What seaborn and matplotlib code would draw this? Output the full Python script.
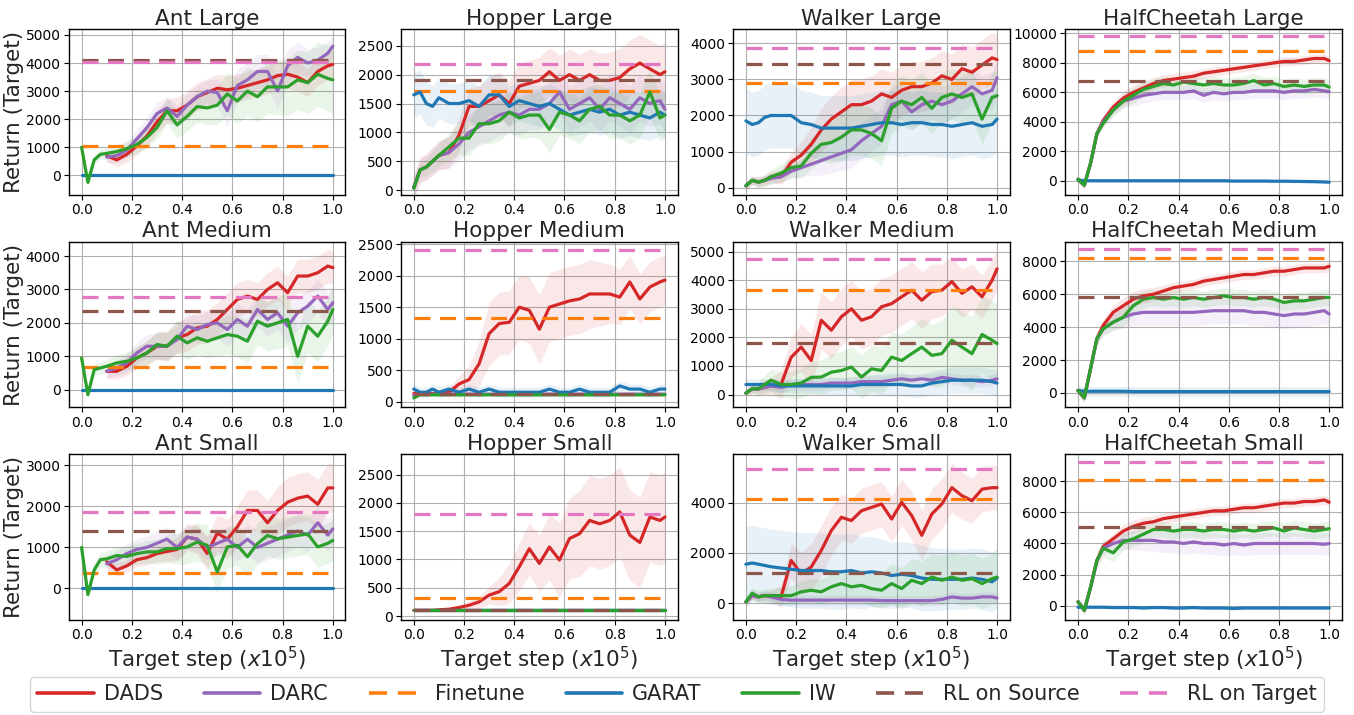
import numpy as np
import pandas as pd
import matplotlib
matplotlib.use("Agg")
import matplotlib.pyplot as plt
import seaborn as sns
from matplotlib.lines import Line2D

N = float("nan")

# ---------------- data ----------------
X = [0, 0.025, 0.05, 0.075, 0.1, 0.14, 0.18, 0.22, 0.26, 0.3, 0.34, 0.38, 0.42, 0.46,
     0.5, 0.54, 0.58, 0.62, 0.66, 0.7, 0.74, 0.78, 0.82, 0.86, 0.9, 0.94, 0.98, 1.0]
XB = [0, 0.1, 0.2, 0.3, 0.4, 0.5, 0.6, 0.7, 0.8, 0.9, 1.0]  # band sample points

TITLES = ["Ant Large", "Hopper Large", "Walker Large", "HalfCheetah Large",
          "Ant Medium", "Hopper Medium", "Walker Medium", "HalfCheetah Medium",
          "Ant Small", "Hopper Small", "Walker Small", "HalfCheetah Small"]
METHODS = ["DADS", "DARC", "GARAT", "IW"]
BASELINES = ["Finetune", "RL on Source", "RL on Target"]

# Ant Large
AL_DADS = [N, N, N, N, 700, 550, 750, 1050, 1400, 1900, 2300, 2300, 2500, 2800, 2950, 3100, 3050, 3100, 3200, 3300, 3400, 3550, 3600, 3500, 3300, 3700, 3900, 3950]
AL_DARC = [N, N, N, N, 650, 700, 900, 1300, 1700, 2200, 2400, 2100, 2500, 2800, 3000, 2950, 2300, 3200, 3400, 3700, 3700, 3000, 3900, 4200, 4000, 4100, 4350, 4600]
AL_GARAT = [0, 0, 0, 0, 0, 0, 0, 0, 0, 0, 0, 0, 0, 0, 0, 0, 0, 0, 0, 0, 0, 0, 0, 0, 0, 0, 0, 0]
AL_IW = [1000, -250, 550, 750, 780, 850, 950, 1100, 1350, 1700, 2300, 1800, 2100, 2450, 2400, 2500, 2900, 2650, 3000, 2800, 3150, 3150, 3150, 3400, 3300, 3600, 3450, 3400]
# Hopper Large
HL_DADS = [50, 350, 400, 500, 600, 650, 950, 1450, 1450, 1550, 1650, 1500, 1800, 1850, 1900, 2050, 1900, 2000, 1900, 2000, 1900, 1900, 1950, 2100, 2200, 2100, 2000, 2050]
HL_DARC = [50, 350, 400, 500, 600, 650, 800, 1000, 1100, 1200, 1300, 1350, 1300, 1400, 1400, 1500, 1700, 1400, 1500, 1600, 1400, 1600, 1500, 1400, 1600, 1500, 1550, 1400]
HL_GARAT = [1650, 1700, 1500, 1450, 1600, 1500, 1500, 1550, 1450, 1650, 1650, 1450, 1550, 1500, 1450, 1500, 1400, 1300, 1350, 1400, 1350, 1400, 1300, 1350, 1300, 1250, 1350, 1300]
HL_IW = [30, 350, 400, 500, 600, 750, 900, 900, 1150, 1150, 1200, 1350, 1250, 1300, 1300, 1050, 1350, 1300, 1200, 1400, 1450, 1300, 1300, 1200, 1300, 1700, 1250, 1300]
# Walker Large
WL_DADS = [50, 200, 150, 200, 300, 300, 700, 900, 1200, 1600, 1900, 2100, 2300, 2300, 2400, 2600, 2500, 2700, 2800, 2800, 2900, 3100, 3000, 3300, 3200, 3400, 3600, 3550]
WL_DARC = [50, 200, 150, 200, 250, 300, 450, 550, 650, 750, 850, 950, 1050, 1300, 1500, 1700, 2300, 2400, 2100, 2300, 2400, 2300, 2400, 2600, 2800, 2600, 2700, 3050]
WL_GARAT = [1850, 1750, 1800, 1950, 2000, 2000, 2000, 1800, 1750, 1650, 1650, 1650, 1650, 1700, 1750, 1800, 1800, 1750, 1800, 1800, 1750, 1750, 1700, 1750, 1800, 1700, 1750, 1900]
WL_IW = [50, 200, 150, 200, 300, 400, 550, 600, 950, 1200, 1250, 1400, 1600, 1600, 1500, 1300, 2200, 2400, 2300, 2500, 2200, 2500, 2600, 2500, 2600, 1900, 2500, 2550]
# HalfCheetah Large
CL_DADS = [100, -300, 1200, 3200, 4100, 5000, 5600, 6000, 6300, 6600, 6800, 6900, 7000, 7100, 7300, 7400, 7500, 7600, 7700, 7800, 7900, 8000, 8100, 8100, 8200, 8300, 8300, 8150]
CL_DARC = [100, -300, 1200, 3200, 4000, 4800, 5400, 5600, 5800, 5900, 6000, 6000, 6000, 6100, 5800, 6000, 5900, 6000, 6000, 6100, 6100, 6100, 6000, 6100, 6100, 6200, 6100, 6050]
CL_GARAT = [50, 0, 0, 0, 0, 0, 0, 0, 0, 0, 0, 0, 0, 0, 0, 0, 0, -20, -20, -20, -20, -30, -30, -40, -50, -60, -80, -100]
CL_IW = [100, -300, 1200, 3200, 3900, 4800, 5400, 5800, 6200, 6400, 6600, 6500, 6700, 6600, 6500, 6600, 6500, 6500, 6600, 6800, 6500, 6600, 6400, 6500, 6400, 6500, 6500, 6350]
# Ant Medium
AM_DADS = [N, N, N, N, 550, 550, 700, 950, 1100, 1300, 1300, 1550, 1650, 1850, 1900, 2100, 2400, 2700, 2800, 2700, 3000, 3200, 2900, 3400, 3400, 3500, 3700, 3650]
AM_DARC = [N, N, N, N, 550, 650, 800, 1100, 1300, 1300, 1300, 1500, 1900, 1800, 1950, 2000, 1800, 2100, 1900, 2400, 2100, 2300, 1900, 2300, 2500, 2800, 2400, 2600]
AM_GARAT = [0, 0, 0, 0, 0, 0, 0, 0, 0, 0, 0, 0, 0, 0, 0, 0, 0, 0, 0, 0, 0, 0, 0, 0, 0, 0, 0, 0]
AM_IW = [950, -150, 600, 650, 700, 800, 850, 950, 1100, 1350, 1300, 1600, 1400, 1550, 1450, 1550, 1650, 1600, 1450, 2050, 1900, 2000, 2100, 1000, 1900, 1600, 2050, 2400]
# Hopper Medium
HM_DADS = [130, 130, 130, 130, 130, 150, 280, 350, 600, 1080, 1240, 1260, 1500, 1450, 1150, 1500, 1550, 1600, 1630, 1710, 1710, 1710, 1660, 1900, 1630, 1820, 1900, 1930]
HM_DARC = [100, 120, 120, 120, 120, 120, 120, 120, 120, 120, 120, 120, 120, 120, 120, 120, 120, 120, 120, 120, 120, 120, 120, 120, 120, 120, 120, 120]
HM_GARAT = [200, 150, 150, 200, 150, 200, 150, 200, 150, 200, 150, 150, 150, 150, 150, 200, 150, 150, 200, 150, 150, 150, 250, 200, 200, 150, 200, 200]
HM_IW = [60, 110, 110, 110, 110, 110, 110, 110, 110, 110, 110, 110, 110, 110, 110, 110, 110, 110, 110, 110, 110, 110, 110, 110, 110, 110, 110, 110]
# Walker Medium
WM_DADS = [50, 200, 200, 250, 300, 350, 1300, 1660, 1190, 2600, 2250, 2720, 3000, 2600, 2720, 3070, 3180, 3420, 3650, 3300, 3600, 3650, 3950, 3540, 3770, 3420, 4000, 4400]
WM_DARC = [50, 200, 200, 250, 300, 250, 350, 350, 350, 350, 400, 400, 400, 450, 450, 450, 500, 550, 500, 550, 500, 600, 550, 500, 500, 450, 500, 550]
WM_GARAT = [350, 350, 350, 350, 350, 300, 300, 300, 300, 300, 300, 300, 300, 350, 350, 350, 350, 350, 300, 300, 400, 450, 500, 500, 500, 500, 450, 400]
WM_IW = [50, 200, 200, 350, 500, 350, 350, 400, 600, 610, 780, 840, 960, 610, 900, 840, 1310, 1190, 1430, 1660, 1370, 1430, 1900, 1660, 1430, 2100, 1900, 1780]
# HalfCheetah Medium
CM_DADS = [150, -300, 1500, 3300, 4100, 4900, 5300, 5700, 5900, 6000, 6200, 6400, 6500, 6600, 6800, 6900, 7000, 7100, 7200, 7200, 7300, 7400, 7400, 7500, 7600, 7600, 7600, 7700]
CM_DARC = [150, -300, 1500, 3300, 3900, 4300, 4600, 4800, 4900, 4900, 4900, 4900, 4900, 4900, 4950, 5000, 5000, 5000, 5000, 4900, 4900, 4800, 4700, 4800, 4800, 4900, 5000, 4800]
CM_GARAT = [150, 100, 100, 100, 100, 100, 100, 80, 80, 80, 80, 80, 80, 80, 80, 80, 80, 80, 80, 80, 80, 80, 80, 80, 80, 80, 80, 80]
CM_IW = [150, -300, 1500, 3300, 3900, 4300, 4600, 5300, 5700, 5800, 5700, 5800, 5700, 5800, 5700, 5800, 5900, 5800, 5800, 5700, 5800, 5700, 5500, 5600, 5600, 5700, 5800, 5800]
# Ant Small
AS_DADS = [N, N, N, N, 650, 450, 550, 700, 750, 850, 900, 950, 1250, 1200, 850, 1350, 1200, 1500, 1900, 1900, 1600, 1900, 2100, 2200, 2250, 2050, 2450, 2450]
AS_DARC = [N, N, N, N, 600, 700, 850, 950, 1000, 1100, 1200, 1000, 1250, 1200, 1000, 1100, 1200, 1000, 1200, 1000, 1100, 1200, 1300, 1400, 1300, 1600, 1300, 1450]
AS_GARAT = [0, 0, 0, 0, 0, 0, 0, 0, 0, 0, 0, 0, 0, 0, 0, 0, 0, 0, 0, 0, 0, 0, 0, 0, 0, 0, 0, 0]
AS_IW = [1000, -150, 450, 700, 720, 800, 780, 850, 890, 890, 970, 970, 1010, 1130, 1050, 400, 1010, 1050, 770, 1090, 1290, 1210, 1250, 1290, 1330, 1010, 1100, 1170]
# Hopper Small
HS_DADS = [100, 100, 100, 100, 110, 120, 150, 190, 250, 370, 430, 575, 870, 1190, 930, 1220, 990, 1370, 1455, 1690, 1630, 1690, 1840, 1430, 1300, 1750, 1690, 1750]
HS_DARC = [100, 100, 100, 100, 100, 100, 100, 100, 100, 100, 100, 100, 100, 100, 100, 100, 100, 100, 100, 100, 100, 100, 100, 100, 100, 100, 100, 100]
HS_GARAT = [110, 110, 110, 110, 110, 110, 110, 110, 110, 110, 110, 110, 110, 110, 110, 110, 110, 110, 110, 110, 110, 110, 110, 110, 110, 110, 110, 110]
HS_IW = [100, 100, 100, 100, 100, 100, 100, 100, 100, 100, 100, 100, 100, 100, 100, 100, 100, 100, 100, 100, 100, 100, 100, 100, 100, 100, 100, 100]
# Walker Small
WS_DADS = [50, 300, 250, 300, 300, 250, 1700, 1175, 1440, 2100, 2890, 3420, 3290, 3680, 3815, 3950, 3350, 4015, 3490, 2700, 3550, 3950, 4600, 4280, 4080, 4540, 4600, 4600]
WS_DARC = [50, 300, 250, 300, 250, 150, 120, 120, 120, 120, 120, 120, 120, 120, 120, 100, 100, 100, 100, 100, 100, 150, 250, 200, 200, 250, 250, 200]
WS_GARAT = [1550, 1600, 1550, 1500, 1450, 1400, 1350, 1300, 1300, 1300, 1250, 1250, 1300, 1200, 1250, 1200, 1100, 1150, 1100, 1000, 950, 950, 950, 950, 1000, 950, 850, 1000]
WS_IW = [50, 400, 250, 300, 300, 300, 300, 450, 515, 450, 650, 780, 650, 710, 580, 515, 780, 580, 910, 780, 1040, 910, 1040, 910, 975, 780, 975, 1040]
# HalfCheetah Small
CS_DADS = [250, -300, 1200, 2900, 3800, 4300, 4800, 5100, 5300, 5400, 5600, 5700, 5800, 5900, 6000, 6100, 6100, 6200, 6300, 6300, 6400, 6500, 6600, 6600, 6700, 6700, 6800, 6650]
CS_DARC = [250, -300, 1200, 2900, 3700, 4000, 4200, 4200, 4200, 4200, 4100, 4100, 4000, 4100, 4000, 4000, 3900, 4000, 3900, 4000, 4000, 4000, 4000, 4000, 4000, 4000, 3950, 4000]
CS_GARAT = [-100, -100, -100, -100, -100, -120, -120, -120, -150, -120, -120, -150, -150, -120, -150, -150, -150, -180, -150, -150, -150, -150, -150, -150, -150, -150, -150, -150]
CS_IW = [250, -300, 1200, 2900, 3700, 3400, 4100, 4300, 4600, 4900, 4900, 4800, 4900, 4900, 4800, 4900, 4900, 4800, 4900, 4800, 4900, 5000, 4800, 5000, 4900, 4800, 4900, 4950]

# band half-widths (at XB)
AL_DADS_B = [0, 200, 300, 400, 500, 500, 500, 500, 500, 500, 500]
AL_DARC_B = [0, 200, 300, 400, 400, 400, 600, 600, 600, 500, 400]
AL_GARAT_B = [30, 30, 30, 30, 30, 30, 30, 30, 30, 30, 30]
AL_IW_B = [100, 200, 300, 400, 500, 600, 800, 900, 1000, 1100, 1200]
HL_DADS_B = [200, 250, 300, 400, 400, 400, 450, 450, 500, 500, 500]
HL_DARC_B = [200, 250, 300, 350, 350, 350, 400, 400, 400, 400, 400]
HL_GARAT_B = [400, 350, 350, 350, 350, 350, 350, 400, 400, 400, 400]
HL_IW_B = [100, 200, 300, 350, 350, 400, 400, 400, 400, 400, 400]
WL_DADS_B = [100, 150, 300, 600, 700, 700, 700, 700, 700, 700, 700]
WL_DARC_B = [100, 150, 200, 400, 500, 500, 500, 500, 500, 500, 500]
WL_GARAT_B = [900, 900, 900, 900, 900, 900, 900, 900, 900, 900, 900]
WL_IW_B = [100, 200, 300, 500, 700, 700, 700, 700, 700, 700, 700]
CL_DADS_B = [200, 300, 500, 400, 400, 350, 300, 300, 300, 300, 300]
CL_DARC_B = [200, 300, 500, 500, 500, 500, 500, 500, 500, 500, 500]
CL_GARAT_B = [100, 100, 100, 100, 100, 100, 100, 100, 100, 100, 100]
CL_IW_B = [200, 300, 500, 500, 500, 500, 500, 500, 500, 500, 500]
AM_DADS_B = [0, 200, 300, 400, 500, 500, 500, 500, 500, 500, 500]
AM_DARC_B = [0, 200, 300, 400, 400, 400, 500, 500, 500, 500, 500]
AM_GARAT_B = [30, 30, 30, 30, 30, 30, 30, 30, 30, 30, 30]
AM_IW_B = [100, 200, 300, 400, 500, 500, 600, 700, 800, 800, 700]
HM_DADS_B = [20, 30, 150, 500, 500, 550, 550, 550, 450, 400, 400]
HM_DARC_B = [30, 30, 30, 30, 30, 30, 30, 30, 30, 30, 30]
HM_GARAT_B = [80, 80, 80, 80, 80, 80, 80, 80, 80, 80, 80]
HM_IW_B = [30, 30, 30, 30, 30, 30, 30, 30, 30, 30, 30]
WM_DADS_B = [100, 300, 800, 1000, 1000, 1000, 1000, 1000, 900, 800, 700]
WM_DARC_B = [100, 200, 200, 200, 200, 200, 200, 200, 200, 200, 200]
WM_GARAT_B = [200, 200, 250, 300, 300, 350, 400, 400, 450, 450, 450]
WM_IW_B = [100, 400, 500, 600, 700, 800, 900, 1000, 1200, 1300, 1400]
CM_DADS_B = [200, 400, 500, 400, 300, 300, 300, 300, 300, 300, 300]
CM_DARC_B = [200, 400, 700, 800, 800, 800, 800, 800, 800, 800, 800]
CM_GARAT_B = [300, 300, 300, 300, 300, 300, 300, 300, 300, 300, 300]
CM_IW_B = [200, 400, 600, 500, 500, 500, 500, 500, 500, 500, 500]
AS_DADS_B = [0, 150, 150, 200, 300, 400, 500, 500, 600, 600, 600]
AS_DARC_B = [0, 200, 250, 300, 300, 300, 300, 400, 400, 400, 400]
AS_GARAT_B = [30, 30, 30, 30, 30, 30, 30, 30, 30, 30, 30]
AS_IW_B = [100, 200, 250, 300, 400, 500, 500, 500, 500, 500, 500]
HS_DADS_B = [20, 30, 50, 150, 400, 500, 700, 800, 800, 800, 800]
HS_DARC_B = [30, 30, 30, 30, 30, 30, 30, 30, 30, 30, 30]
HS_GARAT_B = [30, 30, 30, 30, 30, 30, 30, 30, 30, 30, 30]
HS_IW_B = [30, 30, 30, 30, 30, 30, 30, 30, 30, 30, 30]
WS_DADS_B = [100, 200, 800, 1000, 900, 900, 900, 1000, 1000, 900, 900]
WS_DARC_B = [200, 200, 200, 200, 200, 200, 200, 200, 200, 200, 200]
WS_GARAT_B = [1500, 1500, 1500, 1500, 1500, 1400, 1300, 1300, 1200, 1200, 1200]
WS_IW_B = [200, 300, 400, 500, 600, 700, 800, 900, 1000, 1000, 1000]
CS_DADS_B = [200, 300, 400, 400, 300, 300, 300, 300, 300, 300, 300]
CS_DARC_B = [200, 400, 600, 700, 700, 700, 700, 700, 700, 700, 700]
CS_GARAT_B = [100, 100, 100, 100, 100, 100, 100, 100, 100, 100, 100]
CS_IW_B = [200, 600, 500, 500, 500, 500, 500, 500, 500, 500, 500]

# horizontal baselines (panel order as TITLES)
FINETUNE = [1030, 1710, 2900, 8800, 670, 1330, 3670, 8180, 380, 320, 4140, 8080]
RL_SOURCE = [4110, 1900, 3420, 6740, 2350, 120, 1810, 5840, 1400, 100, 1210, 5050]
RL_TARGET = [4020, 2180, 3880, 9800, 2760, 2410, 4760, 8740, 1870, 1800, 5330, 9210]

# ---------------- layout / style ----------------
PREFIX = ["AL", "HL", "WL", "CL", "AM", "HM", "WM", "CM", "AS", "HS", "WS", "CS"]
YLIMS = [(-690, 5210), (-80, 2790), (-200, 4400), (-950, 10300),
         (-530, 4430), (-90, 2540), (-450, 5350), (-880, 9200),
         (-770, 3270), (-70, 2860), (-670, 5930), (-920, 9740)]
YSTEP = [1000, 500, 1000, 2000, 1000, 500, 1000, 2000, 1000, 500, 2000, 2000]
COLORS = {"DADS": "#d62728", "DARC": "#9467bd", "Finetune": "#ff7f0e", "GARAT": "#1f77b4",
          "IW": "#2ca02c", "RL on Source": "#8c564b", "RL on Target": "#e377c2"}

sns.set_theme(style="ticks")
plt.rcParams['font.family'] = ['DejaVu Sans']
plt.rcParams['axes.edgecolor'] = 'black'
plt.rcParams['axes.linewidth'] = 1.0

fig = plt.figure(figsize=(13.54, 7.15), dpi=100)
gs = fig.add_gridspec(3, 4, left=0.051, right=0.991, top=0.9594, bottom=0.1329,
                      wspace=0.202, hspace=0.283)

LW = 2.3
g = globals()
for i, title in enumerate(TITLES):
    r, c = divmod(i, 4)
    ax = fig.add_subplot(gs[r, c])
    p = PREFIX[i]
    rows = []
    for m in METHODS:
        for xv, yv in zip(X, g[f"{p}_{m}"]):
            rows.append((xv, yv, m))
    df = pd.DataFrame(rows, columns=["x", "y", "method"])
    # bands
    for m in METHODS:
        y = np.asarray(g[f"{p}_{m}"], dtype=float)
        b = np.interp(X, XB, g[f"{p}_{m}_B"])
        ax.fill_between(X, y - b, y + b, color=COLORS[m], alpha=0.1, linewidth=0, zorder=1)
    for m in ["DADS", "DARC"]:
        sns.lineplot(data=df[df.method == m], x="x", y="y", color=COLORS[m], ax=ax,
                     linewidth=LW, estimator=None, sort=False, zorder=3)
    base_vals = {"Finetune": FINETUNE[i], "RL on Source": RL_SOURCE[i], "RL on Target": RL_TARGET[i]}
    sns.lineplot(x=[0, 1], y=[base_vals["Finetune"]] * 2, color=COLORS["Finetune"], ax=ax,
                 linewidth=2.3, zorder=3).lines[-1].set_dashes((5, 3))
    for m in ["GARAT", "IW"]:
        sns.lineplot(data=df[df.method == m], x="x", y="y", color=COLORS[m], ax=ax,
                     linewidth=LW, estimator=None, sort=False, zorder=3)
    for m in ["RL on Source", "RL on Target"]:
        ln = sns.lineplot(x=[0, 1], y=[base_vals[m]] * 2, color=COLORS[m], ax=ax,
                          linewidth=2.3, zorder=3).lines[-1]
        ln.set_dashes((5, 3))

    ax.set_xlim(-0.05, 1.05)
    ax.set_ylim(*YLIMS[i])
    ax.set_xticks([0.0, 0.2, 0.4, 0.6, 0.8, 1.0])
    ax.set_xticklabels(["0.0", "0.2", "0.4", "0.6", "0.8", "1.0"])
    lo, hi = YLIMS[i]
    st = YSTEP[i]
    ax.set_yticks(np.arange(np.ceil(lo / st) * st, hi + 1, st))
    ax.tick_params(labelsize=10, length=3.5, width=0.8, colors='black', pad=2.5)
    ax.grid(True, color='#b0b0b0', linewidth=0.8)
    ax.set_axisbelow(True)
    ax.set_title(title, fontsize=15.5, pad=3)
    ax.set_xlabel(r"Target step ($x10^5$)" if r == 2 else "", fontsize=15.5, labelpad=2)
    ax.set_ylabel("Return (Target)" if c == 0 else "", fontsize=15.5, labelpad=1)
    for s in ax.spines.values():
        s.set_color('black')
        s.set_linewidth(1.0)

handles = []
for name in ["DADS", "DARC", "Finetune", "GARAT", "IW", "RL on Source", "RL on Target"]:
    ls = (0, (5, 3)) if name in BASELINES else "-"
    handles.append(Line2D([0], [0], color=COLORS[name], linewidth=2.6, linestyle=ls, label=name))
fig.legend(handles=handles, loc="center", bbox_to_anchor=(0.5, 0.029), ncol=7, fontsize=15,
           frameon=True, fancybox=True, handlelength=2.7, handletextpad=0.5, columnspacing=1.95,
           borderpad=0.35, edgecolor='#cccccc')

fig.savefig("out.png", dpi=100)
